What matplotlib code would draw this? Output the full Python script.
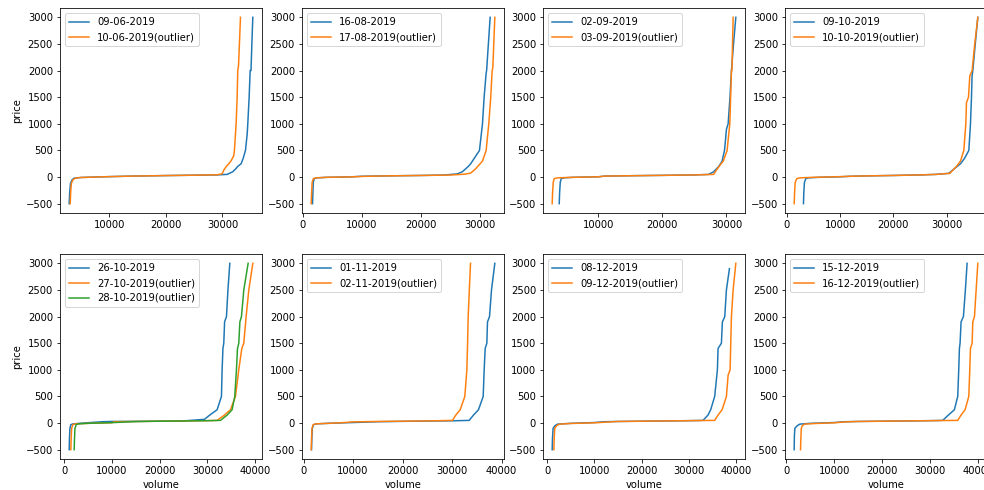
import matplotlib
matplotlib.use("Agg")
import matplotlib.pyplot as plt

# ---------------- data ----------------
# Panel 1
p1_labels = ['09-06-2019', '10-06-2019(outlier)']
p1_a_vol = [2920, 3000, 3150, 3450, 3800, 5000, 8000, 10000, 14000, 20000, 25000, 29000, 30830, 31830, 32400, 32710, 33300, 33660, 34070, 34370, 34480, 34720, 34900, 35050, 35200, 35370]
p1_a_price = [-500, -300, -120, -50, -20, -8, 2, 8, 18, 28, 35, 40, 50, 100, 160, 200, 250, 350, 500, 800, 1000, 1500, 2000, 2000, 2500, 3000]
p1_b_vol = [3100, 3180, 3300, 3600, 4000, 5000, 8000, 10000, 14000, 20000, 25000, 29000, 29940, 30350, 30700, 31120, 31500, 32000, 32120, 32420, 32600, 32710, 32850, 33190]
p1_b_price = [-500, -300, -120, -50, -20, -8, 2, 8, 18, 28, 35, 42, 60, 150, 200, 250, 300, 400, 500, 1000, 1500, 2000, 2100, 3000]

# Panel 2
p2_labels = ['16-08-2019', '17-08-2019(outlier)']
p2_a_vol = [1615, 1680, 1750, 1900, 2300, 4000, 8000, 10000, 14000, 20000, 24000, 26150, 27000, 28000, 28400, 29000, 29890, 30400, 30680, 31020, 31100, 31400, 31700]
p2_a_price = [-500, -300, -100, -30, -15, -5, 3, 15, 22, 30, 38, 60, 100, 200, 250, 350, 500, 1000, 1500, 1950, 2000, 2500, 3000]
p2_b_vol = [1390, 1460, 1550, 1750, 2200, 4000, 8000, 10000, 14000, 20000, 25000, 27500, 28400, 29200, 30000, 30400, 31020, 31470, 31800, 32040, 32150, 32490]
p2_b_price = [-500, -300, -100, -30, -15, -5, 3, 12, 22, 30, 38, 55, 75, 150, 250, 300, 500, 1000, 1500, 2000, 2050, 3000]

# Panel 3
p3_labels = ['02-09-2019', '03-09-2019(outlier)']
p3_a_vol = [3890, 3950, 4050, 4200, 4600, 6000, 10000, 11000, 15000, 20000, 25000, 27230, 28000, 28800, 29320, 29690, 29850, 30000, 30260, 30550, 30780, 31100, 31460]
p3_a_price = [-500, -300, -100, -30, -15, -5, 5, 18, 25, 32, 40, 50, 100, 200, 300, 500, 700, 900, 1000, 1500, 2000, 2500, 3000]
p3_b_vol = [2790, 2850, 2950, 3100, 3600, 6000, 10000, 11000, 15000, 20000, 25000, 28000, 28540, 29160, 29500, 30100, 30520, 30650, 30780, 30850, 31040]
p3_b_price = [-500, -300, -100, -30, -15, -5, 5, 18, 25, 32, 40, 50, 150, 250, 300, 500, 1000, 1500, 2000, 2000, 3000]

# Panel 4
p4_labels = ['09-10-2019', '10-10-2019(outlier)']
p4_a_vol = [3120, 3180, 3300, 3560, 4000, 6000, 10000, 12000, 15000, 20000, 25000, 28000, 30440, 31375, 32625, 33375, 34190, 34500, 34690, 34800, 34940, 35400, 35880]
p4_a_price = [-500, -300, -100, -30, -15, -5, 5, 15, 22, 30, 40, 50, 70, 150, 250, 350, 500, 1000, 1500, 1900, 2000, 2500, 3000]
p4_b_vol = [1375, 1450, 1560, 1875, 2400, 5000, 10000, 12000, 15000, 20000, 25000, 28000, 30625, 31875, 32625, 33250, 33625, 33750, 34125, 34375, 34810, 35300, 35880]
p4_b_price = [-500, -300, -100, -30, -15, -5, 8, 15, 22, 30, 40, 50, 70, 200, 300, 500, 1000, 1400, 1500, 1900, 2000, 2500, 3000]

# Panel 5
p5_labels = ['26-10-2019', '27-10-2019(outlier)', '28-10-2019(outlier)']
p5_a_vol = [1050, 1100, 1200, 1400, 1900, 4000, 8000, 10000, 15000, 20000, 25000, 29370, 30490, 32030, 32940, 33080, 33250, 33430, 33600, 33990, 34300, 34690]
p5_a_price = [-500, -300, -100, -30, -15, 0, 25, 30, 32, 35, 40, 70, 150, 250, 500, 1000, 1400, 1500, 1900, 2000, 2500, 3000]
p5_b_vol = [1400, 1460, 1560, 1820, 2300, 5000, 10000, 10500, 15000, 20000, 25000, 30000, 32030, 33570, 34830, 35870, 36570, 37200, 37620, 38110, 38670, 39510]
p5_b_price = [-500, -300, -100, -30, -15, -5, 5, 25, 30, 35, 40, 45, 50, 150, 250, 500, 1000, 1400, 1500, 2000, 2500, 3000]
p5_c_vol = [2100, 2160, 2260, 2520, 3000, 5000, 10000, 15000, 20000, 25000, 30000, 32730, 34130, 35170, 35730, 36080, 36300, 36570, 36800, 37130, 37620, 38530]
p5_c_price = [-500, -300, -100, -30, -15, -5, 8, 28, 35, 40, 45, 50, 150, 250, 500, 1000, 1400, 1500, 1900, 2000, 2500, 3000]

# Panel 6
p6_labels = ['01-11-2019', '02-11-2019(outlier)']
p6_a_vol = [1620, 1680, 1780, 2020, 2600, 5000, 10000, 15000, 20000, 25000, 30000, 33470, 34340, 35350, 36300, 36500, 36700, 37040, 37170, 37580, 37980, 38650]
p6_a_price = [-500, -300, -100, -30, -15, -5, 10, 25, 32, 38, 42, 50, 150, 250, 500, 1000, 1400, 1500, 1900, 2000, 2500, 3000]
p6_b_vol = [1550, 1620, 1720, 1950, 2500, 5000, 8000, 10000, 15000, 20000, 25000, 30100, 30770, 31650, 32590, 33000, 33150, 33270, 33500, 33740]
p6_b_price = [-500, -300, -100, -30, -15, -5, 8, 22, 30, 35, 40, 50, 150, 250, 500, 1000, 1500, 2000, 2500, 3000]

# Panel 7
p7_labels = ['08-12-2019', '09-12-2019(outlier)']
p7_a_vol = [1060, 1120, 1250, 1630, 2200, 5000, 10000, 12000, 15000, 20000, 25000, 30000, 32980, 34040, 34610, 35460, 36030, 36170, 36880, 37090, 37590, 37940, 38580]
p7_a_price = [-500, -300, -100, -50, -20, -5, 10, 25, 30, 35, 40, 45, 50, 150, 250, 500, 1000, 1400, 1500, 1900, 2000, 2500, 2900]
p7_b_vol = [1420, 1480, 1600, 1990, 2600, 5000, 10000, 13000, 15000, 20000, 25000, 30000, 35460, 36170, 37020, 37940, 38300, 38720, 39000, 39360, 39930]
p7_b_price = [-500, -300, -100, -50, -20, -8, 5, 20, 30, 35, 40, 45, 50, 150, 250, 500, 900, 1000, 2000, 2500, 3000]

# Panel 8
p8_labels = ['15-12-2019', '16-12-2019(outlier)']
p8_a_vol = [1610, 1650, 1750, 2240, 2800, 5000, 10000, 12000, 15000, 20000, 25000, 30000, 32660, 33850, 35100, 35800, 36010, 36150, 36290, 36500, 36990, 37400, 37760]
p8_a_price = [-500, -250, -100, -50, -20, -5, 10, 25, 30, 35, 40, 45, 50, 150, 250, 500, 1000, 1400, 1500, 1900, 2000, 2500, 3000]
p8_b_vol = [2940, 3000, 3100, 3290, 3800, 6000, 10000, 12000, 15000, 20000, 25000, 30000, 35800, 36500, 37340, 38110, 38320, 38460, 38810, 38950, 39300, 39650, 40000]
p8_b_price = [-500, -300, -100, -50, -20, -8, 5, 20, 30, 35, 40, 45, 50, 150, 250, 500, 1000, 1400, 1500, 1900, 2000, 2500, 3000]

panels = [
    (p1_labels, [(p1_a_vol, p1_a_price), (p1_b_vol, p1_b_price)]),
    (p2_labels, [(p2_a_vol, p2_a_price), (p2_b_vol, p2_b_price)]),
    (p3_labels, [(p3_a_vol, p3_a_price), (p3_b_vol, p3_b_price)]),
    (p4_labels, [(p4_a_vol, p4_a_price), (p4_b_vol, p4_b_price)]),
    (p5_labels, [(p5_a_vol, p5_a_price), (p5_b_vol, p5_b_price), (p5_c_vol, p5_c_price)]),
    (p6_labels, [(p6_a_vol, p6_a_price), (p6_b_vol, p6_b_price)]),
    (p7_labels, [(p7_a_vol, p7_a_price), (p7_b_vol, p7_b_price)]),
    (p8_labels, [(p8_a_vol, p8_a_price), (p8_b_vol, p8_b_price)]),
]

# ---------------- layout ----------------
W, H = 984, 490
DPI = 72
fig = plt.figure(figsize=(W / DPI, H / DPI), dpi=DPI)

col_left = [60, 302, 543, 785]
row_top = [8, 254]
ax_w, ax_h = 202, 205

for i, (labels, series) in enumerate(panels):
    r, c = divmod(i, 4)
    left = col_left[c] / W
    bottom = 1 - (row_top[r] + ax_h) / H
    ax = fig.add_axes([left, bottom, ax_w / W, ax_h / H])
    for lab, (v, p) in zip(labels, series):
        ax.plot(v, p, label=lab)
    ax.set_yticks([-500, 0, 500, 1000, 1500, 2000, 2500, 3000])
    ax.legend(loc='upper left')
    if c == 0:
        ax.set_ylabel('price')
    if r == 1:
        ax.set_xlabel('volume')

fig.savefig('out.png', dpi=DPI)
